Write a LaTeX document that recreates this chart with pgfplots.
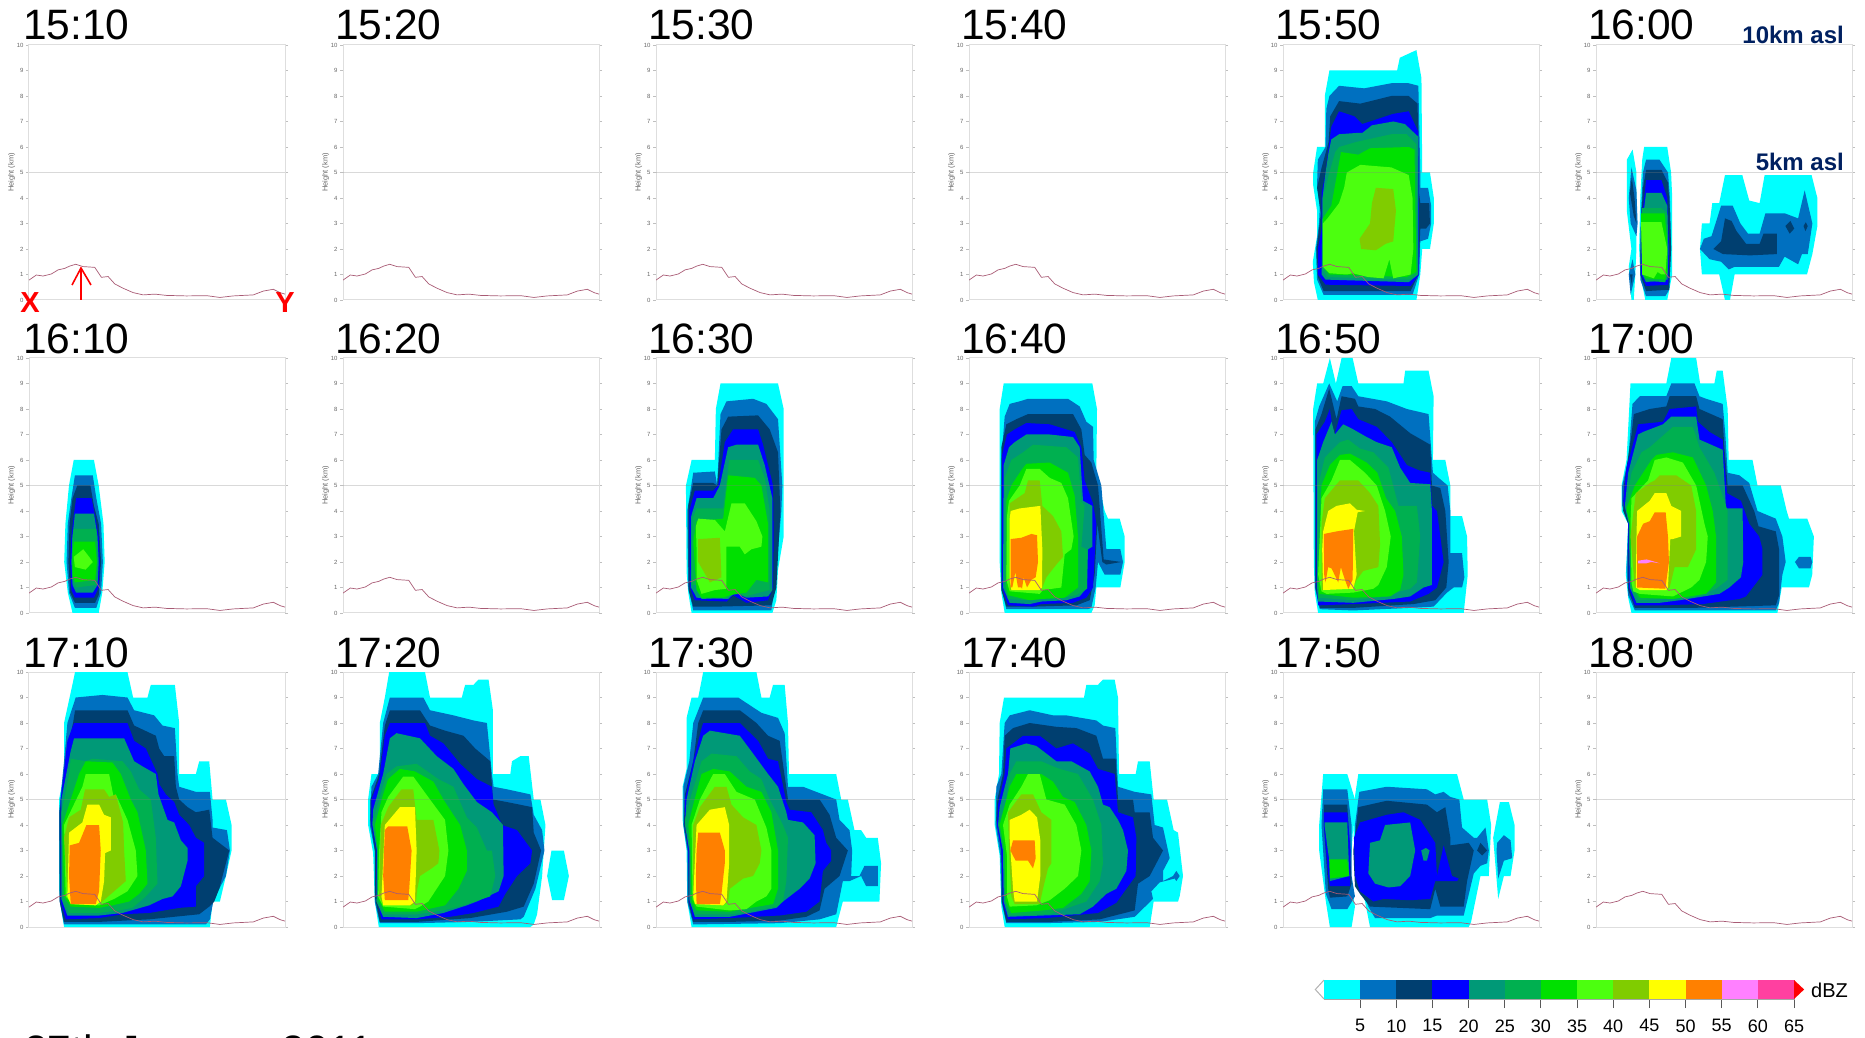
\documentclass[border=0pt]{standalone}
\usepackage{fontspec}
\setmainfont{Liberation Sans}
\usepackage{pgfplots}
\usepackage{pgfplotstable}
\pgfplotsset{compat=1.18}
\definecolor{c0}{HTML}{00FFFF}
\definecolor{c1}{HTML}{0070C0}
\definecolor{c2}{HTML}{003F70}
\definecolor{c3}{HTML}{0000FF}
\definecolor{c4}{HTML}{009977}
\definecolor{c5}{HTML}{00B050}
\definecolor{c6}{HTML}{00E000}
\definecolor{c7}{HTML}{4CFF0F}
\definecolor{c8}{HTML}{80CC00}
\definecolor{c9}{HTML}{FFFF00}
\definecolor{c10}{HTML}{FF8000}
\definecolor{c11}{HTML}{FF80FF}
\definecolor{c12}{HTML}{FF40A0}
\definecolor{navyt}{HTML}{002060}
\definecolor{terr}{HTML}{A85A74}
\definecolor{frameg}{HTML}{DEDEDE}
\pgfplotstableread{
x y
0 .78
22 .98
42 .94
67 1.02
87 1.18
107 1.24
122 1.33
140 1.40
162 1.31
197 1.28
217 .89
237 .92
257 .63
282 .46
312 .29
342 .2
377 .23
412 .18
472 .16
532 .17
572 .1
612 .16
672 .2
702 .35
732 .42
752 .29
767 .23
}\terrain
\pgfplotsset{panel/.style={
  scale only axis, width=256pt, height=255pt, anchor=south west,
  ymin=0, ymax=10, ytick={0,...,10}, xtick=\empty,
  ytick pos=both, tick align=outside, major tick length=3pt,
  y tick style={gray!50,line width=.4pt},
  yticklabel pos=left,
  axis line style={frameg,line width=1pt},
  /pgf/number format/assume math mode=true,
  yticklabel style={font=\fontsize{6}{6}\selectfont,text=gray!80!black,xshift=1pt},
  ylabel={Height (km)},
  ylabel style={font=\fontsize{7.5}{7.5}\selectfont,text=gray!80!black,at={(axis description cs:-0.068,0.5)},anchor=center},
}}
\newcommand\lay[2]{\addplot[fill=#1,draw=none] coordinates {#2};}
% #1 left, #2 bottom (from page bottom), #3 xmin, #4 xmax, #5 title, #6 title x, #7 body, #8 title baseline
\newcommand\panelax[8]{
\begin{axis}[panel,at={(#1pt,#2pt)},xmin=#3,xmax=#4]
#7
\addplot[gray,opacity=.3,line width=.7pt] coordinates {(#3,5)(#4,5)};
\addplot[terr,line width=.7pt] table[x expr=\thisrow{x}*(#4-#3)/767+#3,y=y] {\terrain};
\end{axis}
\node[anchor=base west,inner sep=0pt,font=\fontsize{42.5}{42.5}\selectfont] at (#6pt,#8pt) {#5};
}
\begin{document}
\begin{tikzpicture}[x=1pt,y=1pt]
\useasboundingbox (0,0) rectangle (1865,1037);
% ---------- row 0
\panelax{29}{737}{0}{767}{15:10}{23}{}{997}
\panelax{343}{737}{0}{767}{15:20}{335}{}{997}
\panelax{656}{737}{0}{767}{15:30}{648}{}{997}
\panelax{969}{737}{0}{767}{15:40}{961}{}{997}
\panelax{1283}{737}{60}{722}{15:50}{1275}{
\lay{c0}{(150,0)(140,.7)(137,1.5)(148,2.5)(148,3.5)(138,4.5)(138,5)(148,6)(168,6)(168,8)(180,9)(355,9)(362,9.5)(405,9.8)(418,8.7)(420,5)(440,5)(450,4)(450,3)(440,2)(420,2)(415,1)(405,0)}
\lay{c1}{(165,.2)(148,.8)(145,2)(153,3)(155,3.6)(148,4.5)(150,5.5)(170,6)(172,7.5)(180,8)(205,8.4)(270,8.3)(340,8.5)(385,8.5)(410,8.4)(415,5)(415,4.4)(435,4.4)(443,3.7)(443,3)(435,2.4)(415,2.3)(412,1)(395,.2)}
\lay{c2}{(165,.35)(150,.9)(147,2)(158,3.4)(148,4.4)(160,5.2)(178,6.2)(182,7.2)(205,7.8)(260,7.7)(340,8)(385,8)(408,7.7)(412,4.2)(415,3.8)(438,3.8)(440,3)(430,2.8)(415,2.8)(410,1)(390,.35)}
\lay{c3}{(170,.6)(150,1)(150,2)(160,2.8)(160,4.2)(170,5)(178,6)(185,6.8)(205,7.4)(245,7.2)(265,6.9)(345,7.3)(385,7.4)(410,6.6)(412,1)(390,.55)}
\lay{c4}{(170,.8)(160,1)(162,4)(170,5)(178,5.8)(185,6.3)(205,6.5)(250,6.55)(265,6.55)(290,6.85)(345,7)(375,6.9)(410,6.4)(410,1)(385,.7)}
\lay{c5}{(175,.9)(163,1.2)(163,4)(180,5)(195,5.8)(205,6)(250,6.2)(340,6.5)(380,6.5)(405,6.1)(408,1)(385,.8)}
\lay{c6}{(180,1)(165,1.3)(163,3.2)(185,3.7)(198,4.8)(210,5.8)(255,5.7)(285,5.95)(385,6)(400,5.9)(405,1.1)(380,.9)}
\lay{c7}{(180,1.05)(163,1.3)(163,3)(175,3.2)(205,3.8)(218,4.4)(225,5)(260,5.3)(340,5.2)(385,4.9)(395,4)(397,2)(390,1)(345,.85)(335,1.6)(320,.85)(280,.9)(240,1.05)(225,1)}
\lay{c8}{(300,4.4)(345,4.35)(352,3.5)(345,2.3)(325,2.2)(300,1.95)(262,2)(258,2.4)(285,3)(290,3.8)}
}{997}
\panelax{1596}{737}{870}{1535}{16:00}{1588}{
\lay{c0}{(950,5.5)(950,3.5)(962,2)(955,1.3)(958,.8)(962,0)(968,0)(972,1)(975,2)(975,5)(965,5.9)}
\lay{c1}{(962,5.2)(955,4)(960,3)(975,2.5)(978,3)(975,4.3)(965,5)}
\lay{c2}{(958,4.2)(963,4.8)(970,4)(975,3)(968,3.3)}
\lay{c1}{(955,1)(960,.2)(972,1)(965,1.6)}
\lay{c2}{(958,1)(963,.6)(965,1)}
\lay{c0}{(998,0)(985,1)(982,2)(985,4)(990,5.5)(995,6)(1055,6)(1065,5)(1068,4)(1068,1)(1055,0)}
\lay{c1}{(1000,5.5)(1035,5.5)(1057,5)(1062,4)(1065,2)(1060,.4)(1050,.15)(1000,.15)(985,.8)(985,2)(987,3.5)(992,5)}
\lay{c2}{(1000,5.1)(1040,5.1)(1057,4.6)(1062,3.5)(1065,2)(1060,.4)(1000,.35)(985,1)(986,2.8)(992,4.4)}
\lay{c3}{(1000,4.7)(1040,4.7)(1055,4)(1060,2)(1058,.6)(1000,.55)(987,1)(987,3)(995,4)}
\lay{c4}{(1000,4.2)(1040,4.2)(1055,3.7)(1058,2)(1056,.8)(1000,.7)(990,1)(988,3)(995,3.6)}
\lay{c5}{(990,3.6)(1040,3.6)(1055,3.4)(1056,1.1)(1050,.7)(1000,.75)(990,1.1)}
\lay{c6}{(987,3.4)(1048,3.4)(1054,2.5)(1055,1.1)(1048,.8)(1000,.85)(990,1.1)}
\lay{c7}{(987,3.05)(1040,3.05)(1055,2)(1050,1)(1040,1)(1030,1.1)(1020,.85)(990,1)}
\lay{c0}{(1140,2)(1145,3)(1165,3)(1172,3.8)(1190,3.8)(1205,4.9)(1250,4.9)(1268,3.9)(1295,3.8)(1308,4.9)(1430,4.9)(1445,4)(1445,2.9)(1432,1.8)(1418,1)(1230,1)(1218,0)(1205,0)(1190,1)(1145,1)}
\lay{c1}{(1140,2)(1150,2.4)(1170,2.5)(1195,3.7)(1225,3.7)(1245,3)(1265,2.6)(1295,2.6)(1310,3.4)(1360,3.4)(1395,3.2)(1412,4.3)(1432,3)(1420,1.8)(1405,1.8)(1395,1.4)(1360,1.7)(1345,1.3)(1230,1.3)(1215,1.2)(1195,1.5)(1165,1.6)}
\lay{c2}{(1175,2)(1195,2.3)(1205,3.2)(1222,3.1)(1235,2.7)(1260,2.2)(1295,2.2)(1305,2.6)(1340,2.6)(1340,1.8)(1270,1.75)(1200,1.8)}
\lay{c2}{(1375,3.1)(1385,2.8)(1373,2.6)(1362,2.9)}
\lay{c2}{(1415,3.05)(1420,2.9)(1414,2.7)(1409,2.9)}
}{997}
% ---------- row 1
\panelax{29}{424}{24.4}{239.6}{16:10}{23}{
\lay{c0}{(61,0)(57,.8)(54,2)(55,3.5)(58,5)(62,6)(79,6)(83,5)(87,3.5)(88,2)(86,.8)(83,0)}
\lay{c1}{(63,5.4)(78,5.4)(81,4.5)(85,3.5)(86.5,2)(85,.8)(81,.2)(63,.2)(58,.8)(56,2)(57,3.5)(60,4.5)}
\lay{c2}{(65,5)(76,5)(79,4.2)(83,3.5)(85,2)(83,.7)(80,.4)(63,.4)(59,.8)(57.5,2)(58.5,3.5)(61,4.5)}
\lay{c3}{(64,4.5)(77,4.5)(80,3.8)(83,3)(84,2)(83,1)(79,.6)(63,.6)(60,.9)(59,2)(60,3)(62,3.8)}
\lay{c4}{(63,3.9)(79,3.9)(82,3)(83,2)(82,1.1)(78,.8)(64,.8)(61,1.1)(60,2)(61,3)}
\lay{c5}{(62,3.3)(81,3.3)(82,2)(81,1.1)(64,1)(61,1.3)(60.5,2)(61,3)}
\lay{c6}{(62,2.8)(80,2.8)(81.5,2)(80,1.3)(63,1.2)(61,1.5)(61,2.3)}
\lay{c7}{(62,2.2)(70,2.5)(75,2.2)(78,2)(72,1.7)(63,1.8)}
}{683}
\panelax{343}{424}{0}{767}{16:20}{335}{}{683}
\panelax{656}{424}{78}{848}{16:30}{648}{
\lay{c0}{(185,0)(175,.8)(170,1.6)(168,5)(185,6)(255,6)(258,8)(272,9)(445,9)(462,8)(462,3)(445,1.7)(440,.5)(428,0)(300,0)}
\lay{c1}{(190,.1)(175,1)(172,4)(190,5.5)(255,5.55)(262,5)(272,7.8)(290,8.3)(370,8.4)(410,8.2)(445,7.6)(458,5)(455,4)(435,1)(425,.1)}
\lay{c2}{(190,.25)(176,.9)(175,4.2)(190,5.1)(250,5.1)(262,5)(275,7.2)(295,7.7)(385,7.75)(420,7.2)(445,6.3)(452,4)(440,1)(425,.3)(260,.25)}
\lay{c3}{(195,.5)(180,1)(178,4)(195,4.8)(250,4.8)(265,5)(285,6.7)(310,7.2)(385,7.2)(400,6.6)(430,5)(432,3)(430,1)(415,.5)(350,.4)(310,.7)(290,.45)}
\lay{c4}{(200,.6)(190,.85)(183,1)(184,3.8)(200,4.5)(250,4.5)(270,5)(295,6.5)(320,6.6)(385,6.6)(405,5.8)(428,4.5)(428,.9)(415,.65)(350,.6)(315,.8)(295,.55)}
\lay{c5}{(185,1.1)(188,3.7)(200,4.1)(280,4.1)(298,6)(385,6)(405,5.3)(420,4)(420,.9)(345,.65)(315,.9)(295,.6)(215,.55)(200,1.1)}
\lay{c6}{(190,2.8)(200,3.6)(280,3.7)(295,5.4)(375,5.3)(395,5)(415,3.5)(415,1.2)(380,1.3)(350,.8)(300,.7)(280,.6)(215,.6)(200,.9)}
\lay{c7}{(198,3.4)(205,3.7)(255,3.65)(285,3.2)(305,4.3)(345,4.3)(380,3.6)(398,3)(395,2.6)(365,2.5)(345,2.3)(330,2.6)(290,2.6)(290,.95)(255,.9)(215,.75)(200,1.3)(200,2.5)}
\lay{c8}{(205,2.9)(270,2.95)(275,1.4)(240,1.2)(205,2)}
}{683}
\panelax{969}{424}{58}{826}{16:40}{961}{
\lay{c0}{(165,0)(155,.8)(150,2)(150,8)(162,9)(428,9)(442,8)(440,5.5)(465,4)(475,3.7)(510,3.7)(525,3)(525,2)(512,1)(440,1)(435,.3)(425,0)}
\lay{c1}{(170,.15)(155,1)(155,6)(165,7.7)(180,8.2)(210,8.3)(235,8.4)(355,8.4)(390,8.1)(410,7.5)(430,7.3)(432,6)(455,5)(470,2.5)(512,2.5)(520,2)(512,1.5)(465,1.5)(445,2)(438,1)(425,.2)(415,.15)}
\lay{c2}{(170,.25)(155,.9)(155,6.5)(170,7.4)(200,7.6)(235,7.8)(370,7.8)(395,7.2)(405,6.2)(425,5.9)(445,5)(462,2.1)(515,2)(470,1.9)(458,2)(443,3.5)(435,1.5)(420,.5)(380,.3)(250,.25)}
\lay{c3}{(175,.3)(157,1)(157,6.2)(172,7)(195,7.2)(230,7.45)(300,7.4)(375,7.1)(395,6.5)(405,5.2)(430,4.3)(440,3.5)(435,2.2)(430,1)(410,.6)(370,.4)(275,.35)(250,.25)}
\lay{c4}{(180,.4)(160,1)(162,5.8)(178,6.5)(195,6.7)(230,7)(300,7)(370,6.9)(390,6.5)(400,4.4)(428,4.2)(428,2.6)(415,2.5)(412,1)(390,.65)(350,.5)(275,.45)(240,.35)}
\lay{c5}{(175,.55)(165,1)(165,5.3)(185,6)(220,6.3)(250,6.6)(350,6.5)(385,6.1)(395,4.4)(405,4.2)(395,2.6)(412,2.5)(412,.95)(380,.7)(340,.6)(275,.55)(240,.5)}
\lay{c6}{(175,.7)(170,1)(170,4.4)(185,5)(215,5.6)(230,5.85)(300,5.9)(355,5.5)(375,4.6)(385,3)(385,1)(345,.6)(275,.55)(240,.5)}
\lay{c7}{(178,4.4)(210,5)(230,5.65)(270,5.65)(300,5.3)(335,5.1)(355,4.5)(372,3)(365,2.5)(345,2.3)(335,1)(280,.9)(270,.75)(180,.85)(170,1.3)(172,3.8)}
\lay{c8}{(180,4.3)(225,4.7)(235,5.2)(270,5.2)(278,4.2)(310,3.8)(335,3.2)(340,2.2)(320,1.9)(290,1.4)(275,.9)(180,.9)}
\lay{c9}{(183,4)(210,4.1)(272,4.2)(278,2.5)(277,1)(270,.9)(185,.9)(180,1.3)(180,3.7)}
\lay{c10}{(183,2.9)(215,2.95)(245,3.1)(262,3.05)(265,2)(258,1.4)(245,1.3)(232,1)(222,1.4)(217,.95)(215,1)(205,1)(197,1.6)(188,1)(183,1)}
}{683}
\panelax{1283}{424}{70}{835}{16:50}{1275}{
\lay{c0}{(175,0)(165,.8)(162,2)(160,8)(172,9)(190,9)(210,10)(228,9)(245,10)(278,10)(295,9)(430,9)(435,9.5)(505,9.5)(520,8.5)(518,6)(555,6)(570,5)(570,3.8)(605,3.8)(620,3)(622,1.5)(610,0)}
\lay{c1}{(180,.15)(165,1)(165,7.5)(178,8.1)(208,9)(232,8.3)(248,8.9)(275,8.9)(295,8.5)(380,8.3)(440,8)(505,7.8)(515,6)(518,5.5)(535,5.3)(562,5)(570,4)(570,2.35)(605,2.35)(612,1.4)(605,1)(580,1)(560,.8)(520,.25)(450,.2)(280,.1)}
\lay{c2}{(180,.2)(167,1)(167,7.2)(185,7.8)(208,8.8)(230,7.6)(245,8.5)(285,8.4)(295,8.1)(345,8)(390,7.7)(450,7.05)(510,6.6)(515,5)(540,4.9)(555,4)(565,2)(558,1)(525,.5)(460,.35)(280,.2)}
\lay{c3}{(175,.3)(170,1)(170,7)(195,7.5)(210,8)(222,6.9)(245,7.95)(275,8)(295,7.6)(350,7.3)(395,6.7)(440,5.8)(475,5.6)(510,5.5)(515,4.2)(530,4)(550,2)(530,1)(505,.75)(450,.45)(280,.35)}
\lay{c4}{(175,.45)(172,1)(172,6)(190,6.7)(215,7.5)(225,7)(250,7.4)(280,7.2)(320,6.9)(350,6.7)(395,6.5)(420,5.7)(450,5.1)(510,5.05)(515,4)(515,1.1)(490,1)(450,.65)(400,.55)(280,.4)}
\lay{c5}{(175,.6)(172,1.2)(175,5)(195,6.1)(210,6.3)(240,6.7)(265,6.8)(300,6.45)(340,6.3)(385,5.7)(415,4.2)(470,4.2)(480,3)(470,1.2)(450,.95)(420,.85)(380,.65)(280,.5)}
\lay{c6}{(178,.75)(175,1.5)(185,5)(210,5.8)(240,6.2)(270,6.25)(320,5.9)(352,5.5)(378,4.5)(405,4)(425,3)(430,1.5)(420,.9)(390,.65)(280,.6)}
\lay{c7}{(185,.85)(175,1.5)(185,4.5)(215,5.2)(240,6)(270,6)(315,5.5)(350,5)(375,4)(392,3)(380,1.8)(355,1.1)(340,.95)(280,.8)(200,.75)}
\lay{c8}{(185,3.5)(195,4.5)(240,5.2)(295,5.2)(330,4.7)(355,4.2)(360,2.7)(355,1.8)(310,1.65)(290,1.3)(280,1)(185,.9)}
\lay{c9}{(205,4)(230,4.2)(270,4.3)(290,4.05)(315,4)(293,3.95)(282,3.2)(290,1.5)(280,.95)(190,.9)(187,2.5)(190,3.2)}
\lay{c10}{(192,3.1)(230,3.2)(280,3.3)(278,1.3)(265,.95)(258,1.2)(250,1.5)(243,1.8)(235,1.2)(215,1.75)(205,1.8)(197,1.2)(193,1.5)}
}{683}
\panelax{1596}{424}{108}{880}{17:00}{1588}{
\lay{c0}{(215,0)(205,.6)(198,1.5)(205,3.5)(185,4)(185,5)(200,6)(212,9)(320,9)(335,10)(410,10)(422,9)(465,9)(472,9.5)(490,9.5)(505,8)(508,6)(580,6)(595,5)(665,5)(683,4)(690,3.7)(745,3.7)(765,3)(760,1.5)(750,1)(668,1)(655,0)}
\lay{c1}{(225,.1)(205,.7)(200,1.7)(205,3.5)(187,4.2)(187,5)(205,6)(218,8.2)(240,8.5)(320,8.5)(335,9)(405,9)(420,8.5)(440,8.4)(490,8.2)(498,7)(505,5.5)(540,5.4)(570,5.1)(595,4)(650,3.7)(670,3)(680,2)(670,1.5)(660,.4)(650,.1)(400,.1)}
\lay{c1}{(735,2.2)(755,2.2)(760,2)(755,1.75)(720,1.75)(708,2)(720,2.2)}
\lay{c2}{(225,.2)(205,.9)(205,3.5)(190,4)(192,5)(215,7)(222,7.8)(270,8)(320,8.1)(330,8.5)(410,8.5)(420,8)(490,7.6)(495,6.5)(505,5)(550,5)(585,4)(598,3.4)(650,3.2)(660,2.5)(660,.7)(650,.3)(400,.2)}
\lay{c3}{(225,.3)(207,1)(205,3.6)(190,4.4)(200,5.7)(225,6.9)(235,7.4)(310,7.5)(330,8)(410,8.1)(415,7.5)(450,7.1)(490,6.8)(503,4.7)(545,4.4)(570,3.5)(600,3)(610,2.5)(610,1.5)(560,.65)(540,.55)(430,.35)(300,.3)}
\lay{c4}{(230,.4)(210,1)(207,3.5)(195,4.2)(205,5.5)(235,7)(250,7.1)(310,7.4)(335,7.7)(410,7.7)(420,6.8)(490,6.4)(500,4.1)(550,4.1)(552,2)(545,1.4)(510,1)(480,.75)(360,.5)(300,.4)}
\lay{c5}{(235,.5)(212,1)(208,3.5)(197,4.1)(215,5.5)(245,6.3)(270,6.5)(340,7.3)(400,7.3)(420,6.5)(465,5.5)(495,4.4)(505,4)(505,1.3)(470,.95)(400,.6)(300,.55)}
\lay{c6}{(240,.6)(215,1.1)(210,3.5)(200,4.1)(225,5)(275,6)(290,6.2)(340,6.3)(400,6.1)(440,5)(460,4)(470,3)(470,1.2)(440,.75)(340,.55)}
\lay{c7}{(240,.75)(220,.85)(215,1.2)(212,3.5)(215,4.5)(265,5.2)(285,6)(320,6.1)(370,5.9)(410,5)(435,3.5)(445,3)(440,2)(420,1.3)(395,1)(340,.65)}
\lay{c8}{(225,1)(212,3)(228,4.7)(270,5.1)(285,5.2)(300,5.4)(350,5.4)(395,5)(410,4)(410,2.5)(385,1.8)(345,1.8)(330,1)(320,.95)}
\lay{c9}{(240,.9)(228,1)(230,3)(232,4)(270,4.4)(285,4.7)(320,4.7)(335,4.2)(365,4)(365,3)(340,2.9)(332,2.9)(325,1)(320,.9)}
\lay{c10}{(232,1)(232,3)(250,3.5)(270,3.6)(285,3.95)(318,3.95)(325,3)(328,2)(317,.95)}
\lay{c11}{(235,2.05)(260,2.1)(275,2.05)(300,1.95)(275,2)(260,1.95)(235,1.95)}
}{683}
% ---------- row 2
\panelax{29}{110}{90}{857}{17:10}{23}{
\lay{c0}{(195,0)(185,.8)(180,1.5)(180,5)(195,6)(195,8)(220,9.5)(228,10)(385,10)(402,9)(445,9)(455,9.5)(527,9.5)(540,8)(540,6)(590,6)(600,6.5)(630,6.5)(640,5)(680,5)(697,4)(697,3)(680,2)(662,1)(640,1)(632,0)}
\lay{c1}{(195,.1)(182,1)(180,4.5)(195,6.5)(205,8)(230,9)(310,9.1)(385,9)(405,8.5)(465,8.3)(490,7.9)(527,7.8)(535,6)(540,5.5)(590,5.3)(632,5.3)(640,4.2)(640,3.9)(683,3.8)(692,3)(680,2)(660,1.5)(645,1.2)(632,.3)(620,.1)}
\lay{c2}{(195,.2)(182,1)(182,4.5)(205,7)(222,8)(228,8.5)(385,8.5)(405,7.9)(470,7.5)(480,7)(495,6.7)(525,6.7)(530,5.5)(540,5)(565,4.7)(590,4.5)(630,4.6)(640,3.5)(690,3)(660,1.5)(645,1)(630,.8)(600,.5)(450,.3)(300,.2)}
\lay{c3}{(200,.3)(185,1)(185,5)(205,7.3)(225,8)(385,8)(405,7.3)(440,7)(475,6)(480,5.6)(500,5.2)(525,4.9)(540,4.4)(570,4)(590,3.5)(615,3.3)(615,2)(590,1.6)(590,.8)(540,.75)(450,.55)(370,.5)(300,.35)}
\lay{c4}{(205,.45)(187,1.1)(187,5)(215,6.9)(225,7.4)(375,7.4)(405,6.5)(430,6.3)(470,6)(478,5.2)(505,4.2)(525,4.1)(545,3.4)(565,3.1)(565,2.6)(545,1.6)(520,1.2)(490,1.1)(450,.85)(370,.55)(300,.45)}
\lay{c5}{(210,.55)(190,1.1)(187,4.5)(210,6)(215,6.6)(260,6.5)(280,6.6)(370,6.5)(395,6.1)(420,5.4)(455,5)(470,3.5)(475,1.7)(440,1.2)(400,.75)(360,.65)(300,.55)}
\lay{c6}{(215,.8)(195,1.2)(190,4)(215,5)(240,6)(260,6.5)(340,6.45)(365,6)(395,5)(415,4.5)(440,3)(445,1.7)(420,1.3)(390,1)(340,.85)(300,.75)}
\lay{c7}{(220,.9)(200,1.2)(195,4)(250,5.5)(260,6)(330,6)(345,5)(350,5.2)(385,4.2)(410,3)(415,2)(385,1.4)(345,1.1)(300,.85)}
\lay{c8}{(215,.95)(205,1.5)(195,3.5)(210,4.3)(245,4.6)(258,5.4)(315,5.4)(330,5.1)(350,5.2)(372,4.1)(375,3)(380,1.8)(345,1.4)(305,.95)}
\lay{c9}{(215,.9)(205,1.2)(210,3.7)(250,4.1)(265,4.8)(300,4.8)(315,4.4)(335,4.3)(335,3)(318,2.9)(315,1.8)(305,1)(290,.85)}
\lay{c10}{(212,3.2)(240,3.3)(262,4)(300,4)(305,3)(300,1.4)(290,.9)(215,.9)(210,2)}
}{370}
\panelax{343}{110}{70}{835}{17:20}{335}{
\lay{c0}{(177,0)(165,1)(160,2.9)(145,4)(145,5)(155,6)(180,6)(180,8)(195,9)(208,10)(315,10)(330,9)(425,9)(435,9.5)(460,9.5)(475,9.7)(505,9.7)(518,8.5)(518,6)(570,6)(575,6.5)(600,6.7)(625,6.7)(640,5)(660,5)(675,4)(670,3)(665,2)(660,1.5)(650,.5)(640,.1)(630,0)}
\lay{c0}{(693,3)(730,3)(745,2)(730,1.05)(695,1.05)(680,2)}
\lay{c1}{(180,.15)(165,1)(165,3)(150,4)(155,5.5)(175,6)(190,8)(210,9)(310,9)(330,8.5)(400,8.3)(460,8.1)(500,8)(515,6)(520,5.5)(560,5.4)(630,5.2)(640,4.4)(665,3.8)(672,3)(645,1.5)(610,.4)(600,.3)(450,.2)(290,.15)}
\lay{c2}{(180,.2)(165,1.2)(165,3)(152,4.2)(152,5)(178,6)(195,7.9)(210,8.5)(300,8.5)(330,7.9)(375,7.7)(430,7.5)(465,7)(510,6.5)(518,5)(560,4.9)(635,4.7)(640,3.7)(662,3)(640,1.7)(610,.8)(560,.6)(450,.35)(290,.2)}
\lay{c3}{(185,.3)(170,1.2)(170,3)(155,4)(155,5)(178,5.8)(195,7.5)(210,8)(315,8)(330,7.5)(370,7.2)(420,6.4)(470,5.8)(515,5.5)(520,4.8)(530,4.5)(545,4)(590,3.8)(635,3)(630,2.5)(590,2)(555,1.3)(535,.8)(460,.55)(390,.4)(290,.3)}
\lay{c4}{(190,.4)(170,1)(172,3)(158,4)(160,4.6)(190,6)(210,7.4)(230,7.6)(300,7.4)(350,6.7)(400,6.2)(430,5.6)(470,4.9)(515,4.5)(548,4)(550,2)(535,1.4)(470,1)(440,.85)(370,.55)(290,.35)}
\lay{c5}{(190,.5)(172,1)(172,3)(158,4.1)(185,5.3)(200,6)(230,6.3)(290,6.4)(355,5.8)(400,5.5)(440,4.3)(470,3.9)(500,3)(515,3)(525,2)(510,1.2)(430,.85)(370,.65)(290,.5)}
\lay{c6}{(195,.6)(175,1.1)(175,3)(165,4)(190,5.2)(205,5.8)(240,6.2)(285,6.1)(340,5.7)(370,5)(420,4)(440,3)(440,2.2)(415,1.5)(375,.85)(290,.6)}
\lay{c7}{(190,.8)(175,1.2)(178,3)(185,4.5)(205,5.1)(250,5.9)(280,5.9)(330,5)(375,4.2)(385,3)(375,2)(345,1.4)(325,1)(300,.8)(285,.7)}
\lay{c8}{(190,.9)(178,1.2)(183,4)(205,4.7)(245,5.4)(280,5.4)(290,4.2)(340,4.2)(358,3)(355,2.5)(335,2.3)(300,2)(292,1.5)(288,1)(275,.85)}
\lay{c9}{(190,.85)(185,1.2)(195,4)(240,4.7)(285,4.7)(290,3)(285,1)(270,.85)}
\lay{c10}{(195,3.8)(205,3.95)(262,3.95)(275,3)(268,1.5)(265,1.05)(195,1.05)(190,2)}
}{370}
\panelax{656}{110}{78}{848}{17:30}{648}{
\lay{c0}{(185,0)(172,1)(170,3)(158,4.2)(158,5.5)(170,6.2)(170,8.2)(185,9)(205,9)(220,10)(380,10)(395,9)(420,9)(430,9.5)(465,9.5)(475,8)(478,6)(620,6)(635,5)(655,5)(675,3.8)(695,3.8)(710,3.5)(745,3.5)(755,2.5)(750,1)(640,1)(620,0)}
\lay{c1}{(190,.1)(172,1)(172,3)(160,4)(160,5.5)(178,6.5)(190,8)(220,9)(325,9)(360,8.7)(395,8.4)(445,8.2)(465,7.6)(475,5.5)(520,5.5)(560,5.3)(620,5)(630,4.2)(660,3.8)(668,3)(665,2)(690,2)(705,2.4)(745,2.4)(745,1.6)(710,1.6)(695,2)(660,1.8)(640,1.8)(620,.5)(570,.3)(450,.15)}
\lay{c2}{(190,.2)(175,1)(175,3)(162,4)(165,5.2)(190,6.5)(205,8)(220,8.5)(330,8.5)(380,8)(415,7.5)(450,7.3)(475,5)(570,5)(600,4.4)(620,3.5)(655,3)(630,2)(585,1.5)(570,.65)(530,.4)(450,.25)(300,.2)}
\lay{c3}{(190,.3)(178,1)(175,3)(165,4)(165,5)(190,6.5)(215,7.8)(220,8)(330,8)(385,7.3)(415,6.6)(445,6.5)(470,4.9)(480,4.6)(545,4.5)(580,3.8)(590,3.3)(605,3)(605,2.6)(580,2.2)(570,1)(530,.6)(450,.45)(300,.35)}
\lay{c4}{(195,.4)(178,1.1)(178,3)(165,4)(170,5)(195,6.5)(220,7.5)(240,7.7)(330,7.5)(370,6.8)(415,6)(445,5.5)(470,4.5)(475,4.2)(520,4.1)(555,3.6)(558,2.5)(540,1.9)(510,1.5)(460,1)(440,.75)(340,.5)(300,.4)}
\lay{c5}{(195,.5)(180,1)(180,3)(165,4.2)(180,5)(215,6.5)(245,6.8)(320,6.7)(360,6.1)(395,5.8)(420,5)(460,4)(475,3.5)(470,1.8)(460,1)(440,.8)(340,.55)(300,.5)}
\lay{c6}{(200,.65)(185,1)(182,3)(175,4)(190,4.8)(215,6)(250,6.2)(300,6.1)(350,5.5)(395,5.3)(425,4.5)(445,3)(445,1.5)(430,.9)(340,.7)(300,.6)}
\lay{c7}{(200,.8)(188,1.1)(185,4)(210,5)(250,6)(285,6)(320,5.3)(375,5)(410,3.9)(425,3)(425,1.5)(410,1.2)(380,1)(350,.7)(300,.65)}
\lay{c8}{(200,.9)(190,1.2)(190,4)(210,4.7)(255,5.5)(290,5.5)(305,4.8)(340,4.3)(380,4)(395,3)(390,2.5)(370,2)(340,1.9)(300,1.5)(295,1)(280,.85)}
\lay{c9}{(195,.9)(190,1.2)(200,4)(240,4.6)(285,4.7)(298,4)(298,2.5)(290,1)(280,.85)}
\lay{c10}{(205,3.7)(270,3.7)(285,3)(285,2.5)(275,1.3)(270,.9)(200,.9)(198,2)(200,3)}
}{370}
\panelax{969}{110}{58}{826}{17:40}{961}{
\lay{c0}{(165,0)(155,.8)(150,2.8)(135,4)(135,5)(148,6)(150,8)(163,9)(403,9)(410,9.5)(445,9.5)(460,9.7)(495,9.7)(505,9)(508,6)(558,6)(565,6.5)(600,6.5)(612,5)(652,5)(672,3.8)(685,3.7)(700,2)(690,1.2)(685,1)(612,1)(600,0)}
\lay{c1}{(170,.15)(155,1)(152,2.8)(138,4)(140,5.5)(155,6)(165,8)(180,8.3)(240,8.5)(310,8.3)(350,8.3)(440,8.1)(460,7.9)(497,7.8)(505,5.5)(555,5.3)(605,5.2)(615,4)(640,3.9)(660,2.7)(640,2.2)(640,1.8)(670,2)(680,2.2)(690,2)(680,1.8)(675,1.9)(630,1.75)(605,1.4)(610,1.1)(555,.4)(450,.2)(280,.15)}
\lay{c2}{(170,.2)(157,1)(155,3)(140,4.2)(143,5)(160,6)(165,7.5)(190,7.8)(240,8)(320,7.85)(380,7.8)(440,7.5)(460,6.6)(498,6.6)(505,5)(550,5)(555,4.5)(600,4.5)(610,3.5)(640,3)(620,2.5)(600,2)(565,1.7)(555,.65)(450,.3)(300,.2)}
\lay{c3}{(175,.3)(160,.9)(155,3)(142,4)(145,4.8)(165,6)(170,7)(220,7.5)(270,7.5)(320,7)(370,7.2)(420,6.8)(445,6.2)(495,6)(505,4.5)(550,4.3)(560,3.5)(558,2)(530,1.5)(500,.95)(445,.55)(290,.35)}
\lay{c4}{(175,.4)(162,1)(160,3)(145,4)(150,4.7)(175,6)(182,7)(230,7.2)(260,7.1)(320,6.5)(365,6.5)(420,6.1)(445,5.5)(460,4.8)(480,4.7)(505,4.2)(520,3.8)(535,3)(530,2.2)(500,1.5)(470,1.3)(430,.8)(390,.5)(280,.45)}
\lay{c5}{(180,.45)(165,1)(160,3)(147,4)(170,5)(180,6)(200,6.5)(275,6.5)(310,6.3)(330,6.2)(385,6)(430,5)(455,4)(460,2.5)(450,1.8)(410,1)(300,.5)}
\lay{c6}{(185,.55)(168,1)(165,3)(150,4)(180,5.5)(200,6)(275,6)(310,5.7)(340,5.1)(375,4.9)(410,4)(425,3)(420,1.8)(395,1.3)(340,.75)(280,.65)}
\lay{c7}{(180,.8)(172,1.2)(172,2.8)(160,4)(180,4.8)(215,5.5)(235,6)(270,6)(290,5)(345,4.8)(380,4)(395,3)(385,2)(345,1.5)(300,1.05)(260,.85)}
\lay{c8}{(195,.9)(185,1.2)(178,3)(175,4.5)(215,5.2)(250,5.2)(275,4.5)(305,4.2)(305,2.5)(295,2.3)(280,1.5)(270,.9)}
\lay{c9}{(195,1)(190,1.5)(180,3.5)(180,4.2)(215,4.4)(240,4.6)(262,4.3)(272,3.4)(272,2)(262,1)}
\lay{c10}{(190,3.4)(255,3.4)(258,2.7)(250,2.3)(235,2.6)(198,2.6)(182,3)}
}{370}
\panelax{1283}{110}{70}{835}{17:50}{1275}{
\lay{c0}{(210,0)(198,1)(178,3)(178,4)(190,6)(262,6)(285,5)(270,2)(285,.8)(275,0)}
\lay{c0}{(330,0)(315,1)(285,2.5)(278,4.5)(295,6)(590,6)(610,5)(680,5)(692,4)(685,2)(660,2)(632,.2)(625,0)}
\lay{c0}{(718,4.9)(745,4.9)(762,4)(762,3)(750,2)(730,2)(713,1.1)(698,3.5)}
\lay{c1}{(190,5.4)(262,5.4)(275,4)(275,2)(285,1.2)(262,.7)(215,.7)(198,1.3)(185,4)}
\lay{c1}{(345,.35)(325,.8)(290,2)(285,4)(298,5.3)(380,5.5)(500,5.4)(525,5.2)(550,5.3)(570,5.1)(597,5)(605,3.9)(640,3.5)(650,3.5)(675,3.9)(685,3)(680,2.5)(660,2.4)(640,2.1)(610,.45)(530,.45)(510,.35)}
\lay{c1}{(710,3.3)(730,3.6)(750,3.4)(755,2.7)(730,2.6)(713,1.9)(708,3)}
\lay{c2}{(192,4.8)(262,4.8)(270,3)(275,1.7)(262,1.2)(210,1.15)(205,1.5)(192,4)}
\lay{c2}{(330,.8)(300,1.3)(285,1.6)(280,3)(295,4.7)(380,4.95)(500,4.8)(530,4.5)(555,4.7)(570,3.5)(570,3.2)(625,3.3)(640,3)(620,1.8)(610,.8)(540,.8)(525,1.5)(510,.7)}
\lay{c2}{(660,3.3)(680,3)(665,2.8)(650,3)}
\lay{c3}{(192,4.5)(262,4.5)(272,3)(270,1.6)(210,1.6)(205,2)(192,4)}
\lay{c3}{(340,1)(300,1.4)(285,2)(282,3.5)(300,4.1)(380,4.4)(430,4.5)(480,4.2)(525,3.3)(530,2)(550,3.2)(575,2)(595,1.9)(590,1.8)(525,1.8)(510,1.1)(450,1.05)(370,1.1)}
\lay{c4}{(194,4.1)(262,4.1)(268,2)(210,1.8)(210,2.5)(204,3)(194,4)}
\lay{c4}{(360,3.4)(375,4)(450,4.1)(465,3)(450,2)(420,1.6)(385,1.55)(345,1.7)(325,2.1)(330,3.3)}
\lay{c4}{(497,3.1)(508,3)(500,2.6)(490,2.6)(483,3)}
\lay{c6}{(208,2.65)(262,2.65)(268,2)(210,1.9)}
}{370}
\panelax{1596}{110}{0}{767}{18:00}{1588}{}{370}
% ---------- annotations
\node[anchor=base,inner sep=0pt,text=red,font=\bfseries\fontsize{29}{29}\selectfont] at (30pt,724pt) {X};
\node[anchor=base,inner sep=0pt,text=red,font=\bfseries\fontsize{29}{29}\selectfont] at (285pt,724pt) {Y};
\draw[red,line width=1.6pt] (81,737) -- (81,768);
\draw[red,line width=1.6pt] (72,752) -- (81,769) -- (91,752);
\node[anchor=base east,inner sep=0pt,text=navyt,font=\bfseries\fontsize{24}{24}\selectfont] at (1844pt,993pt) {10km asl};
\node[anchor=base east,inner sep=0pt,text=navyt,font=\bfseries\fontsize{24}{24}\selectfont] at (1844pt,866pt) {5km asl};
\node[anchor=base west,inner sep=0pt,font=\fontsize{42.5}{42.5}\selectfont] at (24pt,-28pt) {27th January 2011};
% ---------- colour bar
\begin{axis}[scale only axis,width=470pt,height=19pt,at={(1324pt,38pt)},anchor=south west,
  xmin=0,xmax=65,ymin=0,ymax=1,clip=false,ytick=\empty,
  xtick={5,10,...,65},tick align=outside,xtick pos=bottom,major tick length=9pt,
  x tick style={gray!70!black,line width=1pt},
  axis line style={gray!70,line width=1pt},
  /pgf/number format/assume math mode=true,
  xticklabel style={font=\fontsize{18}{18}\selectfont,yshift=-8pt},
  ]
\addplot[fill=white,draw=gray!60,line width=1pt] coordinates {(0,0)(-1.2,.5)(0,1)};
\addplot[fill=c0,draw=none] coordinates {(0,0)(5,0)(5,1)(0,1)};
\addplot[fill=c1,draw=none] coordinates {(5,0)(10,0)(10,1)(5,1)};
\addplot[fill=c2,draw=none] coordinates {(10,0)(15,0)(15,1)(10,1)};
\addplot[fill=c3,draw=none] coordinates {(15,0)(20,0)(20,1)(15,1)};
\addplot[fill=c4,draw=none] coordinates {(20,0)(25,0)(25,1)(20,1)};
\addplot[fill=c5,draw=none] coordinates {(25,0)(30,0)(30,1)(25,1)};
\addplot[fill=c6,draw=none] coordinates {(30,0)(35,0)(35,1)(30,1)};
\addplot[fill=c7,draw=none] coordinates {(35,0)(40,0)(40,1)(35,1)};
\addplot[fill=c8,draw=none] coordinates {(40,0)(45,0)(45,1)(40,1)};
\addplot[fill=c9,draw=none] coordinates {(45,0)(50,0)(50,1)(45,1)};
\addplot[fill=c10,draw=none] coordinates {(50,0)(55,0)(55,1)(50,1)};
\addplot[fill=c11,draw=none] coordinates {(55,0)(60,0)(60,1)(55,1)};
\addplot[fill=c12,draw=none] coordinates {(60,0)(65,0)(65,1)(60,1)};
\addplot[fill=red,draw=none] coordinates {(65,0)(66.4,.5)(65,1)};
\end{axis}
\node[anchor=west,inner sep=0pt,font=\fontsize{20}{20}\selectfont] at (1811pt,47pt) {dBZ};
\end{tikzpicture}
\end{document}
